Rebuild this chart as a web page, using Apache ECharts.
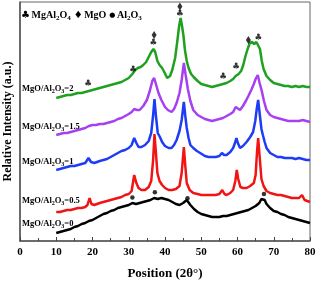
<!DOCTYPE html>
<html>
<head>
<meta charset="utf-8">
<script src="https://cdn.jsdelivr.net/npm/echarts@6/dist/echarts.min.js"></script>
<style>html,body{margin:0;padding:0;background:#fff}#c{width:317px;height:283px}</style>
</head>
<body>
<div id="c"></div>
<script>
// ---- data (2θ, displayed intensity incl. stacking offset) ----
const xTicks = [0, 10, 20, 30, 40, 50, 60, 70, 80];
const seriesNames = ['MgO/Al2O3=0', 'MgO/Al2O3=0.5', 'MgO/Al2O3=1', 'MgO/Al2O3=1.5', 'MgO/Al2O3=2'];

const ratio0 = [[10,8],[11,9],[12,10],[13,11],[14,12],[15,14],[16,15],[17,17],[18,18],[19,20],[20,21],[21,23],[22,25],[23,27],[24,28],[25,30],[26,31],[27,33],[28,34],[29,35],[30,36],[31,38],[32,37],[33,38],[34,39],[35,40],[36,41],[37,43],[38,42],[39,43],[40,42],[41,41],[42,39],[43,37],[44,36],[45,38],[46,41],[47,36],[48,32],[49,29],[50,27],[51,26],[52,25],[53,24],[54,24],[55,24],[56,25],[57,25],[58,26],[59,27],[60,28],[61,29],[62,30],[63,31],[64,33],[65,35],[66,38],[66.6,42],[67,43],[67.5,41],[68,37],[69,33],[70,30],[71,29],[72,27],[73,26],[74,24],[75,23],[76,22],[77,21],[78,20],[79,19],[80,18]];

const ratio05 = [[10,29],[11,29],[12,30],[13,31],[14,31],[15,32],[16,33],[17,33],[18,34],[18.6,36],[19.2,43],[19.7,37],[20.5,36],[21,37],[22,38],[23,39],[24,40],[25,41],[26,42],[27,43],[28,44],[29,46],[30,47],[30.8,50],[31.5,66],[32.1,58],[32.7,53],[33.5,51],[34.5,51],[35.5,54],[36.2,60],[36.7,80],[37.1,107],[37.5,88],[37.9,68],[38.5,60],[39.2,56],[40,53],[41,51],[42,51],[43,52],[44,55],[44.6,68],[45.2,94],[45.6,75],[46,58],[46.8,51],[47.8,48],[49,47],[50,46],[51,46],[52,46],[53,46],[54,46],[55,47],[55.8,51],[56.4,47],[57,46],[58,48],[58.8,51],[59.4,60],[59.8,71],[60.2,62],[60.8,54],[61.5,53],[62.5,53],[63.5,55],[64.5,58],[65,66],[65.4,90],[65.7,103],[66.1,85],[66.6,62],[67.2,55],[68,50],[69,48],[70,47],[71,46],[72,46],[73,45],[74,44],[75,43],[76,43],[77,43],[77.8,46],[78.5,41],[79,40],[80,39]];

const ratio1 = [[10,71],[11,72],[12,73],[13,74],[14,75],[15,75],[16,76],[17,77],[18,78],[18.9,83],[19.6,79],[20.5,78],[21,79],[22,80],[23,81],[24,82],[25,84],[26,86],[27,88],[28,90],[29,91],[30,93],[30.8,96],[31.5,103],[32.1,98],[32.7,94],[33.5,94],[34.5,96],[35.5,100],[36.2,108],[36.7,125],[37.1,142],[37.5,125],[38,108],[38.6,104],[39.2,99],[40,95],[41,93],[41.8,93],[42.5,96],[43.2,101],[44,110],[44.6,121],[45.2,139],[45.6,125],[46,113],[46.5,103],[47,96],[47.8,93],[48.8,90],[49.7,88],[51,85],[52,84],[53,84],[54,84],[55,85],[55.7,88],[56.3,86],[57,86],[58,89],[58.8,93],[59.3,98],[59.7,103],[60.1,98],[60.7,93],[61.5,95],[62.5,99],[63.5,104],[64.3,109],[64.9,120],[65.3,132],[65.7,141],[66.1,128],[66.6,112],[67,106],[67.5,99],[68,93],[69,88],[70,86],[71,84],[72,84],[73,83],[74,83],[75,83],[76,82],[77,83],[78,82],[79,81],[80,81]];

const ratio15 = [[10,106],[11,107],[12,108],[13,108],[14,109],[15,110],[16,111],[17,112],[18,113],[19,115],[20,116],[21,116],[22,117],[23,117],[24,118],[25,119],[26,120],[27,122],[28,123],[29,125],[30,127],[30.8,129],[31.5,132],[32.3,131],[33,131],[34,135],[35,141],[35.8,150],[36.5,160],[37,163],[37.5,157],[38.2,148],[39,141],[40,134],[40.8,131],[41.8,129],[42.5,132],[43.2,138],[44,148],[44.6,161],[45.2,178],[45.7,166],[46.3,152],[47,140],[47.8,131],[49,126],[50,124],[51,122],[52,121],[53,120],[54,121],[55,122],[56,123],[57,125],[58,127],[58.8,129],[59.5,134],[60,133],[60.7,131],[61.5,135],[62.3,140],[63,145],[63.8,151],[64.5,157],[65,162],[65.6,166],[66.1,158],[66.7,150],[67.3,140],[68,131],[69,126],[70,124],[71,123],[72,122],[73,121],[74,120],[75,120],[76,120],[77,120],[78,121],[79,120],[80,119]];

const ratio2 = [[10,143],[11,144],[12,145],[13,146],[14,146],[15,147],[16,148],[17,148],[18,149],[19,150],[20,151],[21,152],[22,153],[23,154],[24,155],[25,156],[26,157],[27,158],[28,159],[29,161],[30,163],[31,167],[31.8,171],[32.5,173],[33.3,174],[34,176],[34.8,179],[35.5,184],[36.2,189],[36.8,192],[37.3,189],[37.9,180],[38.5,176],[39.2,173],[39.8,169],[40.6,163],[41.4,165],[42,171],[42.8,183],[43.4,200],[43.9,215],[44.3,223],[44.7,215],[45.1,205],[45.5,191],[46,180],[46.5,173],[47.2,167],[47.9,164],[49,160],[50,157],[51,156],[52,155],[53,154],[54,155],[55,156],[56,157],[57,158],[58,160],[58.8,162],[59.5,165],[60.3,167],[61,170],[61.6,176],[62.2,185],[62.8,192],[63.4,198],[64,199],[64.6,197],[65.2,199],[65.7,199],[66.2,192],[66.7,180],[67.2,172],[68,165],[69,161],[70,158],[71,157],[72,156],[73,155],[74,155],[75,154],[76,155],[77,154],[78,155],[79,154],[80,154]];

// phase marks
const spinelMarks = [[18.8,157],[31.2,171.5],[36.8,198],[44.1,227],[56,164],[59.6,174],[65.7,203.5]];
const mgoMarks = [[37,206],[44.1,234.5],[63,201]];
const aluminaMarks = [[31,43.5],[37.2,48.7],[46.2,42.7],[67.3,47]];

// ---- styling ----
const colors = ['#000000', '#f01414', '#1e3cf5', '#a640f0', '#1fa01f'];
const serif = '"Liberation Serif", "DejaVu Serif", serif';
const allData = [ratio0, ratio05, ratio1, ratio15, ratio2];

const chart = echarts.init(document.getElementById('c'), null, {renderer: 'canvas'});

const richStyles = (fs) => ({
  n: {fontFamily: serif, fontWeight: 'bold', fontSize: fs, lineHeight: fs + 3, verticalAlign: 'middle', color: '#000'},
  s: {fontFamily: serif, fontWeight: 'bold', fontSize: Math.round(fs * 0.7), lineHeight: Math.round(fs * 0.6), verticalAlign: 'bottom', color: '#000'},
  g: {fontFamily: '"DejaVu Sans", sans-serif', fontSize: fs, lineHeight: fs + 3, verticalAlign: 'middle', color: '#000'},
  d: {fontFamily: '"DejaVu Sans", sans-serif', fontSize: Math.round(fs * 0.7), lineHeight: fs + 3, verticalAlign: 'middle', color: '#000'},
  sp: {fontFamily: serif, fontSize: Math.round(fs * 0.6), lineHeight: fs + 3, verticalAlign: 'middle'}
});

function ratioRich(name) {
  const val = name.split('=')[1];
  return '{n|MgO/Al}{s|2}{n|O}{s|3}{n|=' + val + '}';
}

const labelY = [225, 202, 163, 128, 90];
const graphics = seriesNames.map((nm, i) => ({
  type: 'text', left: 22, top: labelY[i] - 6, z: 100,
  style: {text: ratioRich(nm), rich: richStyles(8.5)}
}));
graphics.push({
  type: 'text', left: 21, top: 10, z: 100,
  style: {
    text: '{g|♣}{sp| }{n|MgAl}{s|2}{n|O}{s|4}{sp|  }{g|♦}{sp| }{n|MgO}{sp|  }{d|●}{sp| }{n|Al}{s|2}{n|O}{s|3}',
    rich: richStyles(10)
  }
});

const lineSeries = allData.map((d, i) => ({
  type: 'line', name: seriesNames[i], data: d,
  showSymbol: false, smooth: false,
  lineStyle: {color: colors[i], width: 2.5},
  itemStyle: {color: colors[i]}, z: 2 + i
}));

option = {
  animation: false,
  grid: {left: 20, right: 7, top: 2, bottom: 42, show: true, borderColor: '#666', borderWidth: 1,
    backgroundColor: 'transparent', containLabel: false, outerBoundsMode: 'none'},
  xAxis: {
    type: 'value', min: 0, max: 80, interval: 10,
    axisLine: {show: true, onZero: false, lineStyle: {color: '#555', width: 1.5}},
    axisTick: {show: true, inside: true, length: 4, lineStyle: {color: '#444'}},
    minorTick: {show: true, splitNumber: 2, length: 3, lineStyle: {color: '#444'}},
    splitLine: {show: false},
    axisLabel: {fontFamily: serif, fontWeight: 'bold', fontSize: 11, color: '#000', margin: 6,
      formatter: v => xTicks.includes(v) ? String(v) : ''},
    name: 'Position (2θ°)', nameLocation: 'middle', nameGap: 26,
    nameTextStyle: {fontFamily: serif, fontWeight: 'bold', fontSize: 13, color: '#000'}
  },
  yAxis: {
    type: 'value', min: 0, max: 239,
    axisLine: {show: true, onZero: false, lineStyle: {color: '#555', width: 1.5}},
    axisTick: {show: false}, axisLabel: {show: false}, splitLine: {show: false},
    name: 'Relative Intensity (a.u.)', nameLocation: 'middle', nameGap: 6,
    nameTextStyle: {fontFamily: serif, fontWeight: 'bold', fontSize: 12, color: '#000'}
  },
  graphic: graphics,
  series: lineSeries.concat([
    {
      type: 'scatter', name: 'MgAl2O4', data: spinelMarks, symbol: 'circle', symbolSize: 6,
      itemStyle: {color: 'rgba(0,0,0,0)'}, z: 20,
      label: {show: true, position: 'inside', formatter: '♣', fontSize: 9, color: '#000',
        fontFamily: '"DejaVu Sans", sans-serif'}
    },
    {
      type: 'scatter', name: 'MgO', data: mgoMarks, symbol: 'diamond', symbolSize: [5, 8],
      itemStyle: {color: '#000'}, z: 20
    },
    {
      type: 'scatter', name: 'Al2O3', data: aluminaMarks, symbol: 'circle', symbolSize: 4.5,
      itemStyle: {color: '#000'}, z: 20
    }
  ])
};
chart.setOption(option);
</script>
</body>
</html>
